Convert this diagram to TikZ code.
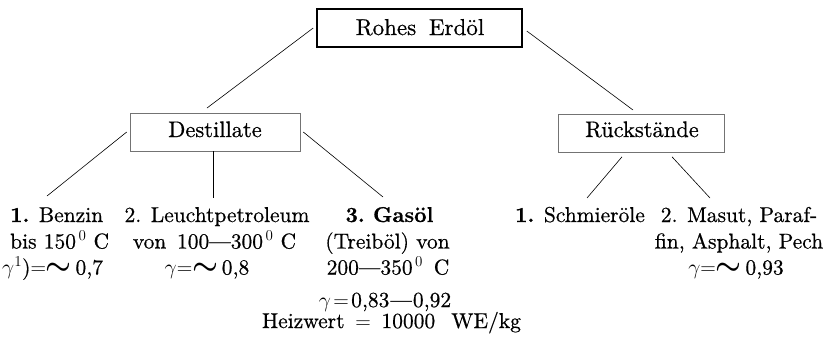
\RequirePackage{fix-cm}
\documentclass[tikz,border=0pt]{standalone}
\usepackage{fontspec}
\setmainfont{lmroman10-regular}[Extension=.otf, BoldFont=lmroman10-bold, ItalicFont=lmroman10-italic, FakeBold=0.6]
\usepackage{graphicx}
\newcommand{\apx}{\scalebox{1.35}{\boldmath$\sim$}}
\begin{document}
\begin{tikzpicture}[x=1pt,y=-1pt,
  txt/.style={inner sep=0pt, anchor=base, font=\fontsize{21.5}{25}\selectfont},
  txtw/.style={txt, anchor=base west},
  mainbox/.style={draw, line width=1.6pt, inner sep=0pt, minimum width=205pt, minimum height=38pt},
  subbox/.style={draw=black!55, line width=0.6pt, inner sep=0pt, minimum height=38pt},
  conn/.style={line width=0.6pt}]
\useasboundingbox (0,0) rectangle (834,341);
% boxes
\node[mainbox] (rohes) at (419.5,28) {};
\node[txt, font=\fontsize{23}{25}\selectfont] (rohest) at (420,35) {Rohes\hspace{0.55em}Erdöl};
\node[subbox, minimum width=170pt] (dest) at (215,132) {};
\node[txt, font=\fontsize{22.5}{25}\selectfont] (destt) at (215,137) {Destillate};
\node[subbox, minimum width=166pt] (rueck) at (641,133.5) {};
\node[txt, font=\fontsize{22.5}{25}\selectfont] (rueckt) at (642,137) {Rückstände};
% Benzin
\node[txtw] (b1) at (10,222) {\textbf{1.} Benzin};
\node[txtw] (b2) at (10,248.5) {bis 150$^{\,0}$ C};
\node[txtw] (b3) at (2,274.5) {$\gamma^{1}$)$=$\apx\,0,7};
% Leuchtpetroleum
\node[txt] (l1) at (217,222) {2. Leuchtpetroleum};
\node[txt] (l2) at (214.5,248.5) {von\, 100---300$^{\,0}$ C};
\node[txt] (l3) at (207,274.5) {$\gamma{=}$\apx\,0,8};
% Gasoel
\node[txt] (g1) at (389.5,222) {\textbf{3.\ Gasöl}};
\node[txt] (g2) at (387.5,248.5) {(Treiböl) von};
\node[txt] (g3) at (388,274.5) {200---350$^{\,0}$\, C};
\node[txt] (g4) at (385,307) {$\gamma\mkern2mu{=}\mkern2mu$0,83\kern1pt---\kern1pt0,92};
\node[txt] (g5) at (391.5,328) {Heizwert\hspace{0.5em}$=$\hspace{0.5em}10000\hspace{0.75em}WE/kg};
% Rueckstaende
\node[txt] (s1) at (580,222) {\textbf{1.} Schmieröle};
\node[txt] (m1) at (739,222) {2. Masut, Paraf-};
\node[txt] (m2) at (739,248.5) {fin, Asphalt, Pech};
\node[txt] (m3) at (736,274.5) {$\gamma{=}$\apx\,0,93};
% connector ends
\coordinate (cd) at (207,108);
\coordinate (cr) at (633,110);
\coordinate (cb) at (47,196);
\coordinate (cl) at (213,198);
\coordinate (cg) at (383,197);
\coordinate (cs) at (587,198);
\coordinate (cm) at (710,198);
% connectors
\draw[conn] ([xshift=-3pt]rohes.west) -- (cd);
\draw[conn] ([xshift=4pt,yshift=-3pt]rohes.east) -- (cr);
\draw[conn] ([xshift=-3pt]dest.west) -- (cb);
\draw[conn] ([xshift=-2pt]dest.south) -- (cl);
\draw[conn] ([xshift=3pt]dest.east) -- (cg);
\draw[conn] ([xshift=-19pt,yshift=-4pt]rueck.south) -- (cs);
\draw[conn] ([xshift=31pt,yshift=-4pt]rueck.south) -- (cm);
\end{tikzpicture}
\end{document}
